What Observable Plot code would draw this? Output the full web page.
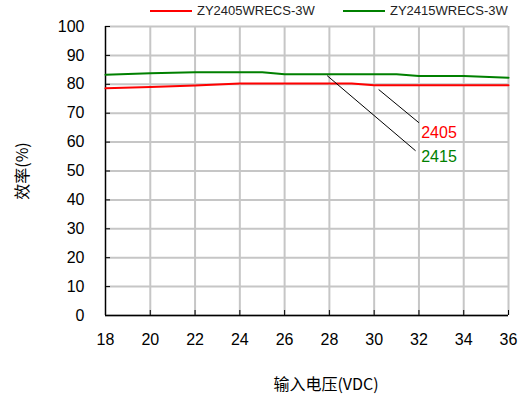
<!DOCTYPE html>
<html><head><meta charset="utf-8">
<script src="https://cdn.jsdelivr.net/npm/d3@7"></script>
<script src="https://cdn.jsdelivr.net/npm/@observablehq/plot@0.6"></script>
<style>
body{margin:0;background:#fff;font-family:"Liberation Sans",Arial,sans-serif;}
#legend{height:15px;position:relative;font-size:13px;color:#222;}
.li{position:absolute;top:3px;display:flex;align-items:center;}
.li span.sw{display:inline-block;width:42px;height:2px;margin-right:5px;}
</style></head>
<body>
<div id="legend"></div>
<div id="chart"></div>
<script>
const seriesNames = ["ZY2405WRECS-3W", "ZY2415WRECS-3W"];
const seriesColors = ["#ff0000", "#008000"];
const x2405 = [18, 20, 22, 24, 26, 28, 29, 30, 32, 34, 36];
const y2405 = [78.6, 79.1, 79.6, 80.3, 80.3, 80.3, 80.3, 79.7, 79.7, 79.7, 79.7];
const x2415 = [18, 20, 22, 24, 25, 26, 28, 30, 31, 32, 34, 36];
const y2415 = [83.3, 83.8, 84.2, 84.2, 84.2, 83.5, 83.5, 83.5, 83.5, 82.9, 82.9, 82.3];
const xTicks = [18, 20, 22, 24, 26, 28, 30, 32, 34, 36];
const yTicks = [0, 10, 20, 30, 40, 50, 60, 70, 80, 90, 100];
const labelTexts = ["2405", "2415"];
const leaderLines = [
  {x1: 30.2, y1: 78.2, x2: 32.0, y2: 66.7},
  {x1: 27.9, y1: 83.0, x2: 31.85, y2: 57.0}
];
const labelPos = [{x: 32.1, y: 63.3}, {x: 32.1, y: 54.9}];

const data = [];
x2405.forEach((x, i) => data.push({s: seriesNames[0], x, y: y2405[i]}));
x2415.forEach((x, i) => data.push({s: seriesNames[1], x, y: y2415[i]}));
const labels = labelTexts.map((t, i) => ({t, ...labelPos[i], c: seriesColors[i]}));

// legend
const leg = document.getElementById("legend");
const legX = [150, 343];
seriesNames.forEach((n, i) => {
  const d = document.createElement("div");
  d.className = "li"; d.style.left = legX[i] + "px";
  d.innerHTML = `<span class="sw" style="background:${seriesColors[i]}"></span>${n}`;
  leg.appendChild(d);
});

const W = 523, H = 386, mT = 11, mB = 86, mL = 105, mR = 15;
const plotH = H - mT - mB, plotW = W - mL - mR;
const chart = Plot.plot({
  width: W, height: H,
  marginTop: mT, marginBottom: mB, marginLeft: mL, marginRight: mR,
  style: {fontFamily: '"Liberation Sans", Arial, sans-serif', fontSize: "16px", color: "#000", background: "#fff", overflow: "visible"},
  x: {domain: [18, 36], ticks: xTicks},
  y: {domain: [0, 100], ticks: yTicks},
  color: {domain: seriesNames, range: seriesColors},
  marks: [
    Plot.ruleX(xTicks, {x: d => d, stroke: "#c6c6c6", strokeWidth: 2}),
    Plot.ruleY(yTicks, {y: d => d, stroke: "#c6c6c6", strokeWidth: 2}),
    Plot.ruleX(xTicks, {x: d => d, stroke: "#000", strokeWidth: 1, insetTop: plotH - 5}),
    Plot.ruleY(yTicks, {y: d => d, stroke: "#000", strokeWidth: 1, insetRight: plotW - 5}),
    Plot.ruleX([18], {stroke: "#000", strokeWidth: 1.3}),
    Plot.ruleY([0], {stroke: "#000", strokeWidth: 1.3}),
    Plot.axisX({ticks: xTicks, tickSize: 0, tickPadding: 18, fontSize: 16, label: null}),
    Plot.axisY({ticks: yTicks, tickSize: 0, tickPadding: 21, fontSize: 16, label: null}),
    Plot.line(data, {x: "x", y: "y", z: "s", stroke: "s", strokeWidth: 2}),
    Plot.link(leaderLines, {x1: "x1", y1: "y1", x2: "x2", y2: "y2", stroke: "#000", strokeWidth: 1}),
    Plot.text(labels, {x: "x", y: "y", text: "t", fill: "c", textAnchor: "start", fontSize: 16}),
    Plot.text(["输入电压(VDC)"], {frameAnchor: "bottom", textAnchor: "middle", dx: 19, dy: 74, fontSize: 16, fontFamily: '"Noto Sans CJK SC", sans-serif'}),
    Plot.text(["效率(%)"], {frameAnchor: "left", textAnchor: "middle", dx: -83, rotate: -90, fontSize: 16, fontFamily: '"Noto Sans CJK SC", sans-serif'})
  ]
});
document.getElementById("chart").appendChild(chart);
</script>
</body></html>
